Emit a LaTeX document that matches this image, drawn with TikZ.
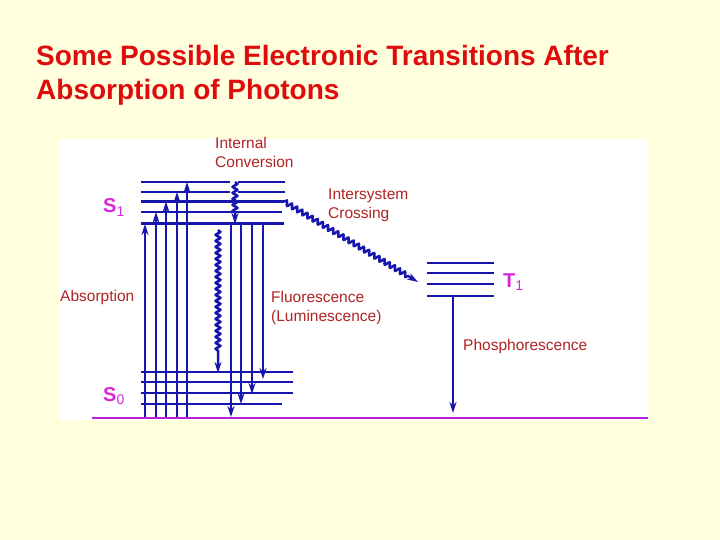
\documentclass[tikz,border=0pt]{standalone}
\usepackage{fontspec}
\setmainfont{Liberation Sans}
\usetikzlibrary{arrows.meta,decorations.pathmorphing}
\definecolor{bgyellow}{RGB}{255,255,222}
\definecolor{lvlblue}{RGB}{22,22,175}
\definecolor{titlered}{RGB}{222,12,12}
\definecolor{lblred}{RGB}{175,35,35}
\definecolor{statemag}{RGB}{215,40,215}
\begin{document}
\begin{tikzpicture}[x=1pt, y=-1pt,
   level/.style={draw=lvlblue, line width=2.8pt},
   trans/.style={draw=lvlblue, line width=2.5pt, -{Stealth[length=11pt,width=7pt]}},
   wavy/.style={trans, decorate, decoration={snake, amplitude=2.2pt, segment length=6pt, post length=11pt}},
   lbl/.style={text=lblred, font=\fontsize{15.5}{19}\selectfont, align=left, anchor=west, inner sep=0pt},
   state/.style={text=statemag, font=\fontsize{20}{22}\selectfont\bfseries, anchor=base west, inner sep=0pt},
   headline/.style={text=titlered, font=\fontsize{28}{32}\selectfont\bfseries, anchor=base west, inner sep=0pt}]
   \fill[bgyellow] (0,0) rectangle (720,540);
   \fill[white] (59,139) rectangle (647,420);
   \node[headline] (t1) at (36,66) {Some Possible Electronic Transitions After};
   \node[headline] (t2) at (36,100) {Absorption of Photons};
   % energy levels
   \foreach \y in {182,192} {
     \draw[level] (141,\y) -- (230,\y);
     \draw[level] (238,\y) -- (285,\y);
   }
   \foreach \y in {201.5,223.5} \draw[level] (141,\y) -- (284,\y);
   \draw[level] (141,212) -- (282,212);
   \foreach \y in {372,382,393} \draw[level] (141,\y) -- (293,\y);
   \draw[level] (141,404) -- (282,404);
   \foreach \y in {263,273,284,296} \draw[level] (427,\y) -- (494,\y);
   \draw[draw=statemag!85!blue, line width=2.2pt] (92,418) -- (648,418);
   % absorption
   \foreach \x/\y [count=\i] in {145/224,156/212,166/201.5,177/192,187/182} {
     \coordinate (ab\i) at (\x,417);
     \coordinate (ae\i) at (\x,\y);
     \draw[trans] (ab\i) -- (ae\i);
   }
   % fluorescence
   \foreach \x/\y [count=\i] in {231/417,241/404,252/394,263/379} {
     \coordinate (fb\i) at (\x,223.5);
     \coordinate (fe\i) at (\x,\y);
     \draw[trans] (fb\i) -- (fe\i);
   }
   % radiationless
   \coordinate (icb) at (235,182);
   \coordinate (ice) at (235,224);
   \draw[wavy] (icb) -- (ice);
   \coordinate (vrb) at (218,230);
   \coordinate (vre) at (218,373);
   \draw[wavy, decoration={post length=22pt}] (vrb) -- (vre);
   \coordinate (iscb) at (284,201.5);
   \coordinate (isce) at (418,282);
   \draw[wavy] (iscb) -- (isce);
   \coordinate (phb) at (453,296);
   \coordinate (phe) at (453,413);
   \draw[trans] (phb) -- (phe);
   % labels
   \node[lbl] (ic) at (215,152.5) {Internal\\Conversion};
   \node[lbl] (isc) at (328,205.5) {Intersystem\\Crossing};
   \node[lbl] (abs) at (60,297) {Absorption};
   \node[lbl] (fl) at (271,308) {Fluorescence\\(Luminescence)};
   \node[lbl] (ph) at (463,346) {Phosphorescence};
   \node[state] (s1) at (103,213) {S\textsubscript{\mdseries 1}};
   \node[state] (s0) at (103,401) {S\textsubscript{\mdseries 0}};
   \node[state] (tt1) at (503,287) {T\textsubscript{\mdseries 1}};
\end{tikzpicture}
\end{document}
